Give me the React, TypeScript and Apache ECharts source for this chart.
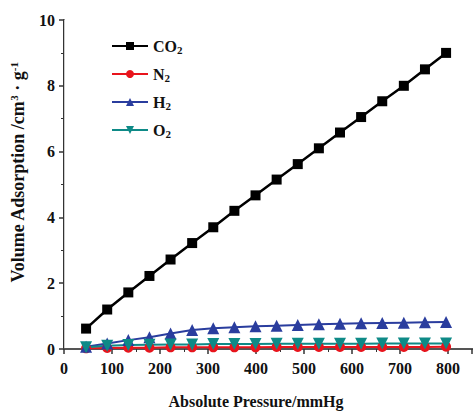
import React, { useEffect, useRef } from "react";
import * as echarts from "echarts";

const pressure = [46, 90, 134, 178, 222, 267, 311, 355, 399, 443, 487, 531, 575, 619, 663, 708, 752, 796];
const co2 = [0.62, 1.2, 1.72, 2.22, 2.72, 3.22, 3.7, 4.2, 4.67, 5.15, 5.62, 6.1, 6.58, 7.05, 7.53, 8.0, 8.5, 9.0];
const n2 = [0.02, 0.03, 0.04, 0.04, 0.05, 0.05, 0.05, 0.05, 0.05, 0.06, 0.06, 0.06, 0.06, 0.06, 0.06, 0.06, 0.06, 0.07];
const h2 = [0.07, 0.17, 0.27, 0.36, 0.47, 0.58, 0.63, 0.66, 0.69, 0.71, 0.73, 0.75, 0.77, 0.78, 0.79, 0.8, 0.81, 0.82];
const o2 = [0.05, 0.1, 0.12, 0.13, 0.14, 0.14, 0.15, 0.15, 0.15, 0.16, 0.16, 0.16, 0.16, 0.16, 0.17, 0.17, 0.17, 0.17];
const seriesNames = ["CO2", "N2", "H2", "O2"];

const FONT = "'Liberation Serif', 'Times New Roman', serif";

export default function App() {
  const ref = useRef<HTMLDivElement>(null);
  useEffect(() => {
    if (!ref.current) return;
    const chart = echarts.init(ref.current, null, { renderer: "svg" });
    const pairs = (ys: number[]) => pressure.map((x, i) => [x, ys[i]]);
    const axisLine = { lineStyle: { color: "#333", width: 2 } };
    const labelStyle = { fontFamily: FONT, fontWeight: "bold", fontSize: 16, color: "#111" };
    chart.setOption({
      animation: false,
      backgroundColor: "#fff",
      grid: { left: 64, right: 1, top: 20, bottom: 60 },
      legend: {
        orient: "vertical",
        left: 106,
        top: 32,
        itemGap: 10,
        itemWidth: 36,
        itemHeight: 10,
        data: seriesNames,
        formatter: (name: string) => name.replace(/(\d)/, "{sub|$1}"),
        textStyle: {
          fontFamily: FONT,
          fontWeight: "bold",
          fontSize: 16,
          color: "#111",
          lineHeight: 18,
          rich: {
            sub: { fontFamily: FONT, fontWeight: "bold", fontSize: 11, color: "#111", verticalAlign: "bottom", lineHeight: 14 },
          },
        },
      },
      xAxis: [
        {
          type: "value",
          min: 0,
          max: 850,
          interval: 100,
          name: "Absolute Pressure/mmHg",
          nameLocation: "middle",
          nameGap: 44,
          nameTextStyle: { ...labelStyle, padding: [0, 24, 0, 0] },
          axisLine,
          axisTick: { length: 5, lineStyle: { color: "#333", width: 1.5 } },
          minorTick: { show: true, splitNumber: 2, length: 3, lineStyle: { color: "#333" } },
          splitLine: { show: false },
          axisLabel: { showMaxLabel: false, margin: 11, ...labelStyle },
        },
        {
          type: "value",
          position: "top",
          min: 0,
          max: 850,
          axisLine: { lineStyle: { color: "#555", width: 2 } },
          axisTick: { show: false },
          axisLabel: { show: false },
          splitLine: { show: false },
        },
      ],
      yAxis: [
        {
          type: "value",
          min: 0,
          max: 10,
          interval: 2,
          name: "Volume Adsorption /cm{sup|3} · g{sup|-1}",
          nameLocation: "middle",
          nameGap: 28,
          nameTextStyle: {
            fontFamily: FONT,
            fontWeight: "bold",
            fontSize: 18,
            color: "#111",
            lineHeight: 20,
            padding: [0, 0, 0, 24],
            rich: {
              sup: { fontFamily: FONT, fontWeight: "bold", fontSize: 11, color: "#111", verticalAlign: "top", lineHeight: 14 },
            },
          },
          axisLine: { show: true, ...axisLine },
          axisTick: { length: 5, lineStyle: { color: "#333", width: 1.5 } },
          minorTick: { show: true, splitNumber: 2, length: 3, lineStyle: { color: "#333" } },
          splitLine: { show: false },
          axisLabel: { margin: 9, ...labelStyle },
        },
        {
          type: "value",
          position: "right",
          min: 0,
          max: 10,
          axisLine: { show: true, lineStyle: { color: "#ccc", width: 1 } },
          axisTick: { show: false },
          axisLabel: { show: false },
          splitLine: { show: false },
        },
      ],
      series: [
        { name: "CO2", type: "line", data: pairs(co2), symbol: "rect", symbolSize: 10, color: "#000", lineStyle: { width: 2.5 } },
        { name: "N2", type: "line", data: pairs(n2), symbol: "circle", symbolSize: 10, color: "#e8141c", lineStyle: { width: 2 } },
        { name: "H2", type: "line", data: pairs(h2), symbol: "triangle", symbolSize: 12, color: "#2a3d9e", lineStyle: { width: 2 } },
        { name: "O2", type: "line", data: pairs(o2), symbol: "triangle", symbolRotate: 180, symbolSize: 12, color: "#0e8a87", lineStyle: { width: 2 } },
      ],
    });
    return () => chart.dispose();
  }, []);
  return <div ref={ref} style={{ position: "fixed", left: 0, top: 0, width: 473, height: 414 }} />;
}
